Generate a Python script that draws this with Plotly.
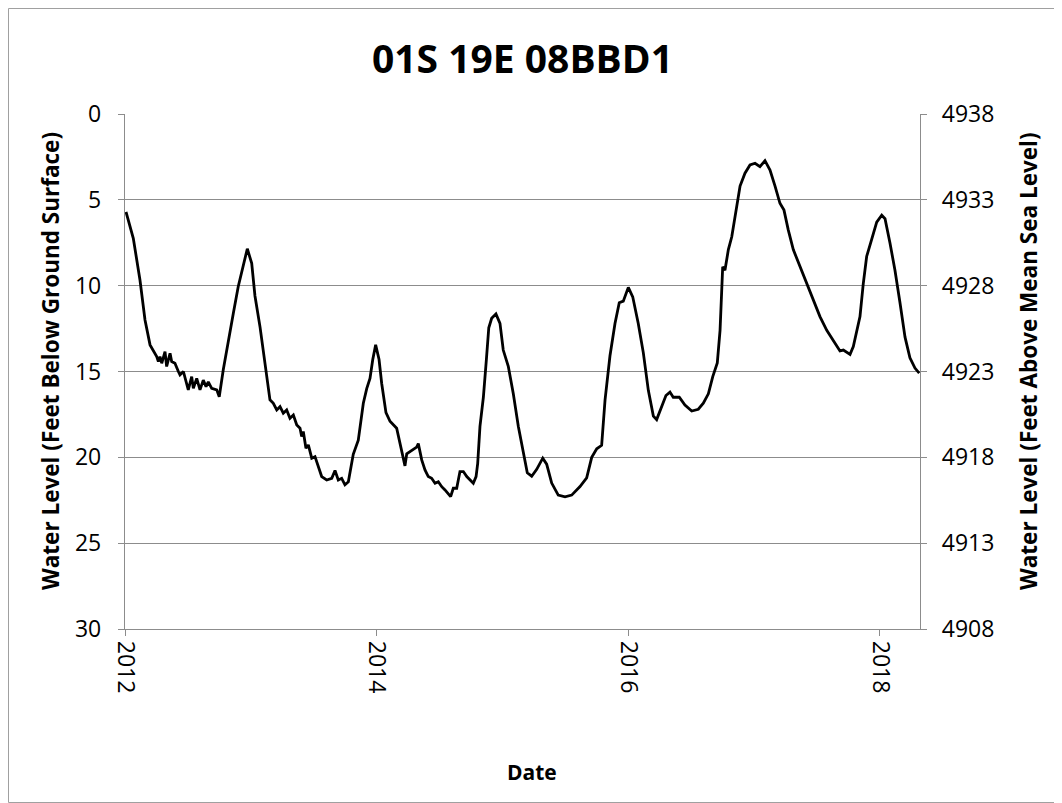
import plotly.graph_objects as go

# Decimal year of each reading
years = [
    2012.008, 2012.066, 2012.119, 2012.159, 2012.199, 2012.252, 2012.265, 2012.278, 2012.292, 2012.318,
    2012.331, 2012.358, 2012.371, 2012.397, 2012.424, 2012.437, 2012.464, 2012.490, 2012.503, 2012.530,
    2012.543, 2012.570, 2012.596, 2012.622, 2012.644, 2012.662, 2012.689, 2012.729, 2012.749, 2012.781,
    2012.808, 2012.834, 2012.861, 2012.900, 2012.940, 2012.972, 2013.007, 2013.033, 2013.073, 2013.113,
    2013.152, 2013.179, 2013.206, 2013.232, 2013.258, 2013.285, 2013.311, 2013.338, 2013.365, 2013.391,
    2013.404, 2013.417, 2013.438, 2013.457, 2013.484, 2013.510, 2013.536, 2013.563, 2013.603, 2013.643,
    2013.669, 2013.695, 2013.722, 2013.748, 2013.775, 2013.794, 2013.814, 2013.854, 2013.894, 2013.921,
    2013.947, 2013.969, 2013.992, 2014.019, 2014.040, 2014.074, 2014.106, 2014.159, 2014.185, 2014.225,
    2014.239, 2014.278, 2014.318, 2014.331, 2014.358, 2014.384, 2014.410, 2014.437, 2014.464, 2014.490,
    2014.517, 2014.543, 2014.569, 2014.588, 2014.609, 2014.636, 2014.662, 2014.689, 2014.716, 2014.742,
    2014.768, 2014.790, 2014.803, 2014.821, 2014.848, 2014.872, 2014.891, 2014.914, 2014.948, 2014.980,
    2015.006, 2015.046, 2015.086, 2015.126, 2015.165, 2015.197, 2015.232, 2015.272, 2015.320, 2015.351,
    2015.391, 2015.443, 2015.497, 2015.550, 2015.616, 2015.669, 2015.709, 2015.749, 2015.788, 2015.815,
    2015.854, 2015.894, 2015.928, 2015.960, 2016.000, 2016.035, 2016.079, 2016.119, 2016.159, 2016.199,
    2016.225, 2016.265, 2016.299, 2016.331, 2016.357, 2016.405, 2016.450, 2016.504, 2016.556, 2016.596,
    2016.636, 2016.671, 2016.707, 2016.729, 2016.742, 2016.750, 2016.768, 2016.795, 2016.822, 2016.848,
    2016.888, 2016.927, 2016.967, 2017.007, 2017.046, 2017.086, 2017.126, 2017.166, 2017.205, 2017.237,
    2017.271, 2017.311, 2017.364, 2017.418, 2017.470, 2017.523, 2017.577, 2017.629, 2017.682, 2017.709,
    2017.762, 2017.788, 2017.815, 2017.841, 2017.867, 2017.894, 2017.934, 2017.974, 2018.014, 2018.040,
    2018.079, 2018.119, 2018.159, 2018.199, 2018.238, 2018.278, 2018.312,
]

# Depth to water, feet below ground surface
depth_ft = [
    5.7, 7.24, 9.67, 12.0, 13.45, 14.13, 14.42, 14.13, 14.52, 13.84,
    14.71, 13.94, 14.42, 14.52, 15.0, 15.2, 15.0, 15.7, 16.07, 15.3,
    15.98, 15.4, 16.07, 15.5, 15.88, 15.6, 15.98, 16.07, 16.47, 14.9,
    13.7, 12.8, 11.6, 10.05, 8.9, 7.85, 8.7, 10.6, 12.4, 14.5,
    16.65, 16.85, 17.24, 17.05, 17.43, 17.24, 17.72, 17.53, 18.11, 18.3,
    18.79, 18.5, 19.47, 19.28, 20.05, 19.96, 20.54, 21.12, 21.32, 21.22,
    20.77, 21.32, 21.22, 21.6, 21.42, 20.64, 19.82, 19.0, 16.85, 16.0,
    15.4, 14.3, 13.45, 14.3, 15.7, 17.4, 17.9, 18.3, 19.2, 20.5,
    19.8, 19.6, 19.4, 19.2, 20.15, 20.73, 21.12, 21.22, 21.51, 21.42,
    21.71, 21.9, 22.09, 22.29, 21.8, 21.8, 20.83, 20.83, 21.12, 21.32,
    21.51, 21.12, 20.35, 18.2, 16.5, 14.3, 12.45, 11.9, 11.65, 12.2,
    13.75, 14.7, 16.3, 18.2, 19.8, 20.9, 21.1, 20.7, 20.05, 20.4,
    21.5, 22.2, 22.3, 22.2, 21.7, 21.2, 20.0, 19.5, 19.3, 16.65,
    14.1, 12.2, 11.0, 10.9, 10.1, 10.65, 12.2, 13.9, 16.1, 17.6,
    17.8, 17.05, 16.4, 16.2, 16.5, 16.5, 16.95, 17.3, 17.2, 16.85,
    16.3, 15.3, 14.5, 12.6, 10.05, 8.9, 9.1, 7.9, 7.15, 6.0,
    4.2, 3.45, 2.97, 2.87, 3.07, 2.72, 3.26, 4.2, 5.2, 5.6,
    6.75, 7.9, 8.9, 9.9, 10.8, 11.8, 12.6, 13.2, 13.8, 13.75,
    14.0, 13.55, 12.6, 11.8, 9.9, 8.3, 7.3, 6.3, 5.9, 6.1,
    7.5, 9.1, 11.0, 13.0, 14.2, 14.8, 15.1,
]

land_surface_elev = 4938
elevation_ft = [land_surface_elev - d for d in depth_ft]

x_ticks = [2012, 2014, 2016, 2018]
x_tick_labels = ["2012", "2014", "2016", "2018"]
left_ticks = [0, 5, 10, 15, 20, 25, 30]
right_ticks = [4938, 4933, 4928, 4923, 4918, 4913, 4908]

FONT = "'Open Sans', sans-serif"
GRID = "#8c8c8c"

# The page body adds an 8px margin, so the figure is drawn 8px in from the page edge.
OFF = 8
W, H = 1062 - OFF, 803 - OFF
# plot-area geometry in figure pixels
L, R, T, B = 125 - OFF, 920 - OFF, 114 - OFF, 629 - OFF
PW, PH = R - L, B - T


def px(page_x):
    return (page_x - OFF - L) / PW


def py(page_y):
    return (B - (page_y - OFF)) / PH


fig = go.Figure()
fig.add_trace(go.Scatter(
    x=years, y=depth_ft, mode="lines",
    line=dict(color="black", width=2.8),
    showlegend=False, hoverinfo="x+y",
))
fig.add_trace(go.Scatter(
    x=years, y=elevation_ft, mode="lines", yaxis="y2",
    line=dict(color="rgba(0,0,0,0)", width=0),
    showlegend=False, hoverinfo="skip",
))

fig.update_layout(
    width=W, height=H,
    paper_bgcolor="white", plot_bgcolor="white",
    margin=dict(l=L, r=W - R, t=T, b=H - B),
    font=dict(family=FONT, color="black", size=23),
    title=dict(
        text="<b>01S 19E 08BBD1</b>",
        x=0.5, xanchor="center", xref="paper",
        y=1 - (59 - OFF) / H, yanchor="middle",
        font=dict(family=FONT, size=39, color="black"),
    ),
    xaxis=dict(
        range=[2012, 2018.318],
        tickmode="array", tickvals=x_ticks, ticktext=x_tick_labels,
        tickangle=90, ticks="outside", ticklen=6, tickcolor=GRID,
        showline=True, linecolor=GRID, linewidth=1.3,
        showgrid=False, zeroline=False,
        tickfont=dict(size=23, family=FONT),
    ),
    yaxis=dict(
        range=[30, 0],
        tickmode="array", tickvals=left_ticks,
        ticks="outside", ticklen=6, tickcolor=GRID,
        showline=True, linecolor=GRID, linewidth=1.3,
        showgrid=True, gridcolor=GRID, gridwidth=1.3,
        zeroline=False, ticklabelstandoff=12,
        tickfont=dict(size=23, family=FONT),
    ),
    yaxis2=dict(
        range=[4908, 4938], overlaying="y", side="right",
        tickmode="array", tickvals=right_ticks,
        ticks="outside", ticklen=6, tickcolor=GRID,
        showline=True, linecolor=GRID, linewidth=1.3,
        showgrid=False, zeroline=False, ticklabelstandoff=10,
        tickfont=dict(size=23, family=FONT),
    ),
    annotations=[
        dict(text="<b>Water Level (Feet Below Ground Surface)</b>", textangle=-90,
             xref="paper", yref="paper", x=px(50), y=py(361),
             xanchor="center", yanchor="middle", showarrow=False,
             font=dict(size=22.5, family=FONT)),
        dict(text="<b>Water Level (Feet Above Mean Sea Level)</b>", textangle=-90,
             xref="paper", yref="paper", x=px(1028), y=py(361),
             xanchor="center", yanchor="middle", showarrow=False,
             font=dict(size=22.5, family=FONT)),
        dict(text="<b>Date</b>",
             xref="paper", yref="paper", x=px(532), y=py(772),
             xanchor="center", yanchor="middle", showarrow=False,
             font=dict(size=21, family=FONT)),
    ],
    shapes=[dict(
        type="rect", xref="paper", yref="paper",
        x0=px(OFF + 0.5), x1=px(1061.5), y0=py(802.5), y1=py(OFF + 0.5),
        line=dict(color="#a0a0a0", width=1), fillcolor="rgba(0,0,0,0)", layer="below",
    )],
)

fig.write_html("out.html")
